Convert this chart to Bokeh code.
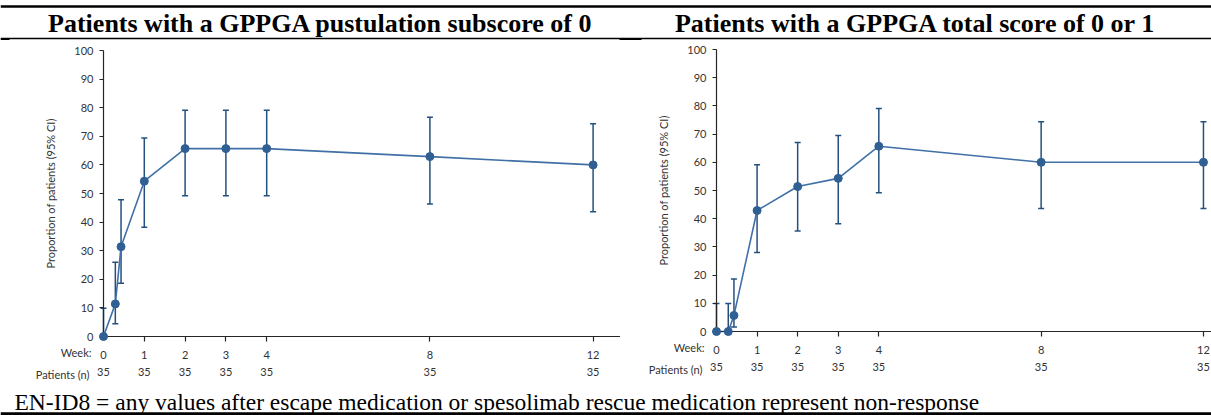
from bokeh.plotting import figure
from bokeh.layouts import column, row
from bokeh.models import (ColumnDataSource, Whisker, TeeHead, FixedTicker,
                          LinearAxis, Label, Range1d)
from bokeh.core.properties import value
from bokeh.embed import file_html
from bokeh.resources import INLINE

# ---- data -------------------------------------------------------------
# GPPGA pustulation subscore of 0 (% of patients, 95% CI)
pust_weeks = [0, 0.29, 0.43, 1, 2, 3, 4, 8, 12]
pust_pct = [0.0, 11.4, 31.4, 54.3, 65.7, 65.7, 65.7, 62.9, 60.0]
pust_lo = [0.0, 4.5, 18.6, 38.2, 49.2, 49.2, 49.2, 46.3, 43.6]
pust_hi = [9.9, 26.0, 47.8, 69.4, 79.1, 79.1, 79.1, 76.7, 74.4]

# GPPGA total score of 0 or 1 (% of patients, 95% CI)
total_weeks = [0, 0.29, 0.43, 1, 2, 3, 4, 8, 12]
total_pct = [0.0, 0.0, 5.7, 42.9, 51.4, 54.3, 65.7, 60.0, 60.0]
total_lo = [0.0, 0.0, 1.6, 28.0, 35.6, 38.2, 49.2, 43.6, 43.6]
total_hi = [9.9, 9.9, 18.6, 59.1, 67.0, 69.5, 79.1, 74.4, 74.4]

tick_weeks = [0, 1, 2, 3, 4, 8, 12]
patients_n = [35, 35, 35, 35, 35, 35, 35]
y_ticks = [0, 10, 20, 30, 40, 50, 60, 70, 80, 90, 100]

panel_titles = ["Patients with a GPPGA pustulation subscore of 0",
                "Patients with a GPPGA total score of 0 or 1"]
y_label = "Proportion of patients (95% CI)"
footnote = ("EN-ID8 = any values after escape medication or spesolimab "
            "rescue medication represent non-response")

# ---- styling -----------------------------------------------------------
SANS = "Lato"
SERIF = "Liberation Serif"
TEXT_C = "#333333"
AXIS_C = "#262626"
LINE_C = "#4070A6"
MARK_C = "#2F5F93"
ERR_C = "#24507F"
TICK_FS = "11px"


def panel(weeks, pct, lo, hi, width, height, x0px, px_per_week, y0px, y100px):
    """One chart panel; the frame fills the whole figure and the axes are
    pinned at week 0 / 0 %."""
    px_per_pct = (y0px - y100px) / 100.0
    x_start = -x0px / px_per_week
    x_end = (width - x0px) / px_per_week
    y_start = -(height - y0px) / px_per_pct
    y_end = 100 + y100px / px_per_pct

    p = figure(width=width, height=height,
               x_range=Range1d(x_start, x_end), y_range=Range1d(y_start, y_end),
               x_axis_type=None, y_axis_type=None,
               toolbar_location=None, output_backend="svg",
               min_border=0, outline_line_color=None)
    p.xgrid.visible = False
    p.ygrid.visible = False
    p.background_fill_color = "white"
    p.border_fill_color = "white"

    # y axis
    yax = LinearAxis(fixed_location=0, bounds=(0, 100),
                     ticker=FixedTicker(ticks=y_ticks),
                     major_tick_in=0, major_tick_out=4,
                     minor_tick_in=0, minor_tick_out=0,
                     axis_line_color=AXIS_C, axis_line_width=1.2,
                     major_tick_line_color=AXIS_C,
                     major_label_standoff=6,
                     major_label_text_font=SANS,
                     major_label_text_font_size=TICK_FS,
                     major_label_text_color=TEXT_C,
                     axis_label=y_label,
                     axis_label_standoff=14,
                     axis_label_text_font=SANS,
                     axis_label_text_font_style="normal",
                     axis_label_text_font_size="11px",
                     axis_label_text_color=TEXT_C)
    p.add_layout(yax, "left")

    # week axis (line, tick marks, week labels)
    xax = LinearAxis(fixed_location=0, bounds=(0, x_end),
                     ticker=FixedTicker(ticks=tick_weeks,
                                        minor_ticks=tick_weeks[1:]),
                     major_tick_in=0, major_tick_out=0,
                     minor_tick_in=0, minor_tick_out=5,
                     axis_line_color=AXIS_C, axis_line_width=1.2,
                     minor_tick_line_color=AXIS_C, minor_tick_line_width=1.2,
                     major_label_standoff=9,
                     major_label_text_font=SANS,
                     major_label_text_font_size=TICK_FS,
                     major_label_text_color=TEXT_C)
    p.add_layout(xax, "below")

    # patient count row
    nax = LinearAxis(fixed_location=0, bounds=(0, x_end),
                     ticker=FixedTicker(ticks=tick_weeks, minor_ticks=[]),
                     major_tick_in=0, major_tick_out=0,
                     minor_tick_in=0, minor_tick_out=0,
                     axis_line_color=None,
                     major_tick_line_color=None, minor_tick_line_color=None,
                     major_label_overrides={w: str(n) for w, n in
                                            zip(tick_weeks, patients_n)},
                     major_label_standoff=31,
                     major_label_text_font=SANS,
                     major_label_text_font_size=TICK_FS,
                     major_label_text_color=TEXT_C)
    p.add_layout(nax, "below")

    for txt, dx, dy in (("Week:", -12, -9), ("Patients (n)", -14, -31)):
        p.add_layout(Label(x=0, y=0, x_offset=dx, y_offset=dy, text=txt,
                           text_align="right", text_baseline="top",
                           text_font=SANS, text_font_size=TICK_FS,
                           text_color=TEXT_C))

    src = ColumnDataSource(dict(week=weeks, pct=pct, lo=lo, hi=hi))
    p.add_layout(Whisker(source=src, base="week", upper="hi", lower="lo",
                         line_color=ERR_C, line_width=1.5,
                         upper_head=TeeHead(size=6, line_color=ERR_C,
                                            line_width=1.5),
                         lower_head=TeeHead(size=6, line_color=ERR_C,
                                            line_width=1.5)))
    p.line("week", "pct", source=src, line_color=LINE_C, line_width=1.6)
    p.scatter("week", "pct", source=src, size=8, fill_color=MARK_C,
              line_color=MARK_C, level="overlay")
    return p


def band(width, height):
    """A plain strip whose coordinates run in pixels from the top-left."""
    b = figure(width=width, height=height,
               x_range=Range1d(0, width), y_range=Range1d(height, 0),
               x_axis_type=None, y_axis_type=None,
               toolbar_location=None, output_backend="svg",
               min_border=0, outline_line_color=None)
    b.xgrid.visible = False
    b.ygrid.visible = False
    return b


# header with the two panel titles and rules
header = band(1211, 40)
header.segment(x0=[0, 0, 0, 619], y0=[6, 38, 39.5, 39.5],
               x1=[1211, 1211, 9, 641], y1=[6, 38, 39.5, 39.5],
               line_color="black", line_width=[2.5, 1.3, 2.5, 2.5])
header.text(x=[320, 915], y=[22.5, 22.5], text=panel_titles,
            text_align="center", text_baseline="middle",
            text_font=value(SERIF), text_font_style="bold",
            text_font_size="26px", text_color="black")

left = panel(pust_weeks, pust_pct, pust_lo, pust_hi,
             width=620, height=345, x0px=103, px_per_week=40.8,
             y0px=296, y100px=10)
right = panel(total_weeks, total_pct, total_lo, total_hi,
              width=591, height=345, x0px=96, px_per_week=40.58,
              y0px=291, y100px=9)

# footer note and closing rule
footer = band(1211, 30)
footer.text(x=[14], y=[16.5], text=[footnote], text_align="left",
            text_baseline="middle", text_font=value(SERIF),
            text_font_size="23.5px", text_color="black")
footer.segment(x0=[0], y0=[28.3], x1=[1211], y1=[28.3],
               line_color="black", line_width=3)

layout = column(header, row(left, right), footer)
open("out.html", "w").write(file_html(layout, INLINE))
